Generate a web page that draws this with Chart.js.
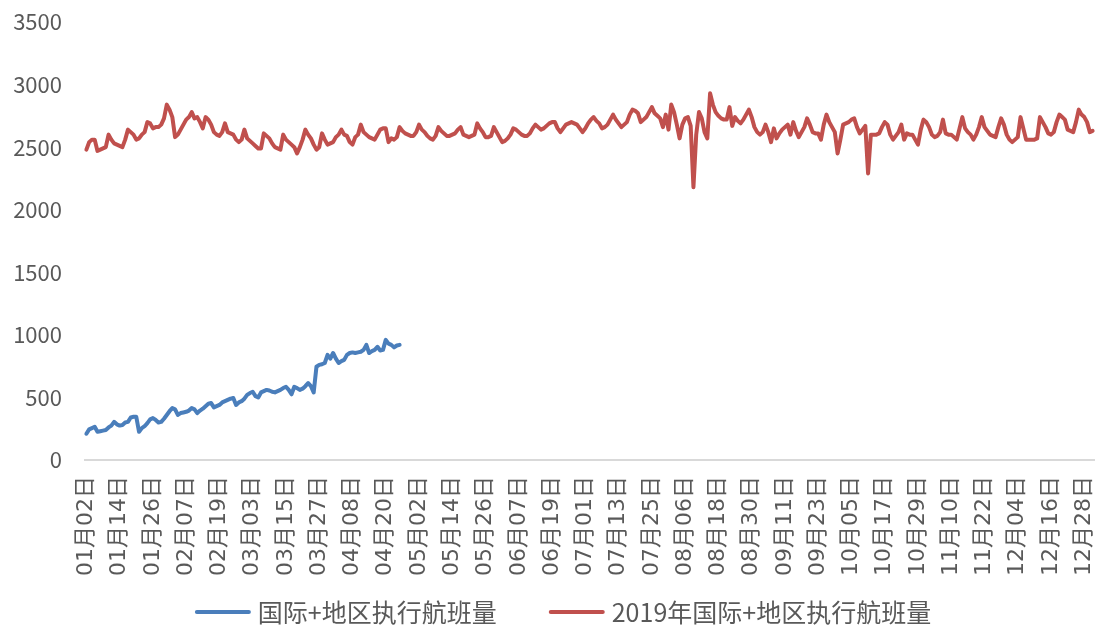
<!DOCTYPE html>
<html>
<head>
<meta charset="utf-8">
<script src="https://cdn.jsdelivr.net/npm/chart.js@4.4.1/dist/chart.umd.min.js"></script>
<style>
  html, body { margin: 0; padding: 0; background: #ffffff; }
  #wrap { width: 1098px; height: 630px; }
</style>
</head>
<body>
<div id="wrap"><canvas id="flights" width="1098" height="630"></canvas></div>
<script>
// Daily international + regional executed flights, starting 01月02日
const firstDay = { month: 1, day: 2 };
const daysInMonth = [31, 28, 31, 30, 31, 30, 31, 31, 30, 31, 30, 31];

const seriesNames = ['国际+地区执行航班量', '2019年国际+地区执行航班量'];

// current year (runs through late April)
const currentFlights = [
  210,245,255,265,225,230,235,240,260,275,
  305,285,275,280,300,305,340,345,345,225,
  255,270,295,325,335,320,300,305,330,360,
  390,415,405,360,375,380,385,395,415,405,
  375,395,410,430,450,455,420,430,440,460,
  470,480,490,495,440,460,470,490,520,535,
  545,510,500,540,550,560,555,545,540,550,
  560,575,585,560,525,585,575,560,570,590,
  615,590,540,745,760,765,775,840,810,855,
  810,775,790,800,840,855,860,855,860,865,
  880,920,855,870,880,905,875,880,960,930,
  920,900,915,920
];

// 2019 full year
const flights2019 = [
  2480,2540,2560,2560,2470,2480,2490,2500,2600,2560,
  2530,2520,2510,2500,2560,2640,2620,2600,2560,2570,
  2600,2620,2700,2690,2650,2660,2660,2680,2730,2840,
  2800,2740,2580,2600,2640,2680,2720,2740,2780,2730,
  2740,2700,2650,2740,2720,2680,2620,2600,2590,2620,
  2690,2620,2610,2600,2560,2540,2560,2640,2570,2550,
  2530,2510,2490,2490,2610,2590,2570,2530,2500,2490,
  2480,2600,2560,2540,2520,2500,2450,2500,2560,2640,
  2600,2570,2520,2480,2500,2610,2560,2520,2530,2540,
  2580,2600,2640,2600,2590,2540,2520,2580,2600,2680,
  2620,2600,2580,2570,2560,2600,2640,2650,2650,2540,
  2570,2560,2580,2660,2630,2610,2600,2590,2590,2620,
  2680,2640,2620,2590,2570,2560,2590,2660,2630,2610,
  2590,2590,2600,2610,2640,2660,2600,2590,2580,2590,
  2600,2690,2650,2620,2580,2580,2590,2660,2620,2580,
  2540,2550,2570,2600,2650,2640,2620,2600,2590,2590,
  2610,2650,2680,2660,2640,2650,2670,2690,2700,2700,
  2650,2620,2650,2680,2690,2700,2690,2680,2650,2620,
  2650,2690,2720,2740,2710,2690,2650,2660,2680,2720,
  2760,2720,2690,2660,2680,2700,2760,2800,2790,2770,
  2700,2720,2740,2780,2820,2770,2750,2730,2660,2760,
  2640,2840,2780,2680,2570,2680,2730,2740,2670,2180,
  2600,2780,2730,2620,2570,2930,2840,2780,2750,2730,
  2720,2720,2820,2670,2740,2710,2690,2720,2760,2800,
  2740,2660,2620,2600,2620,2680,2620,2540,2650,2570,
  2610,2640,2660,2680,2600,2700,2630,2580,2620,2660,
  2730,2680,2620,2610,2610,2560,2680,2760,2700,2660,
  2620,2450,2560,2680,2690,2700,2720,2730,2660,2610,
  2640,2670,2290,2600,2600,2600,2610,2660,2700,2680,
  2600,2560,2590,2620,2680,2560,2610,2600,2600,2560,
  2520,2640,2720,2700,2660,2600,2580,2590,2620,2720,
  2610,2600,2600,2580,2560,2650,2740,2650,2620,2600,
  2560,2600,2660,2740,2660,2630,2600,2590,2580,2660,
  2730,2680,2600,2560,2540,2560,2580,2740,2650,2560,
  2560,2560,2560,2570,2740,2700,2660,2610,2600,2620,
  2700,2760,2740,2720,2640,2630,2620,2700,2800,2760,
  2740,2700,2620,2630
];

const yTicks = [0, 500, 1000, 1500, 2000, 2500, 3000, 3500];
const labelEvery = 12;

// calendar day labels "MM月DD日"
const pad2 = n => String(n).padStart(2, '0');
const dayLabels = [];
{
  let m = firstDay.month, d = firstDay.day;
  while (dayLabels.length < flights2019.length) {
    dayLabels.push(pad2(m) + '月' + pad2(d) + '日');
    d++;
    if (d > daysInMonth[m - 1]) { d = 1; m++; }
  }
}

const BLUE = '#4a7ebb';
const RED = '#c0504d';
const TEXT = '#595959';

// legend drawn under the axis: short line sample followed by the series name
const seriesKey = {
  id: 'seriesKey',
  afterDraw(chart) {
    const ctx = chart.ctx;
    ctx.save();
    ctx.font = '25px "Noto Sans CJK SC"';
    const items = chart.data.datasets.map(ds => ({
      text: ds.label, color: ds.borderColor, w: ctx.measureText(ds.label).width
    }));
    const lineLen = 56, gap = 7, spacing = 52, cy = 612, cx = 563;
    const total = items.reduce((s, it) => s + lineLen + gap + it.w, 0) + spacing * (items.length - 1);
    let x = cx - total / 2;
    items.forEach(it => {
      ctx.strokeStyle = it.color;
      ctx.lineWidth = 4;
      ctx.lineCap = 'round';
      ctx.beginPath();
      ctx.moveTo(x + 2, cy);
      ctx.lineTo(x + lineLen - 2, cy);
      ctx.stroke();
      x += lineLen + gap;
      ctx.fillStyle = TEXT;
      ctx.textBaseline = 'middle';
      ctx.textAlign = 'left';
      ctx.fillText(it.text, x, cy);
      x += it.w + spacing;
    });
    ctx.restore();
  }
};

new Chart(document.getElementById('flights'), {
  type: 'line',
  data: {
    labels: dayLabels,
    datasets: [
      {
        label: seriesNames[0],
        data: currentFlights,
        borderColor: BLUE,
        backgroundColor: BLUE,
        borderWidth: 4,
        pointRadius: 0,
        tension: 0,
        borderJoinStyle: 'round',
        borderCapStyle: 'round'
      },
      {
        label: seriesNames[1],
        data: flights2019,
        borderColor: RED,
        backgroundColor: RED,
        borderWidth: 4,
        pointRadius: 0,
        tension: 0,
        borderJoinStyle: 'round',
        borderCapStyle: 'round'
      }
    ]
  },
  options: {
    responsive: false,
    animation: false,
    events: [],
    layout: { padding: { top: 22, right: 4, bottom: 45, left: 0 } },
    plugins: {
      legend: { display: false },
      tooltip: { enabled: false }
    },
    scales: {
      x: {
        type: 'category',
        offset: true,
        grid: { display: false, drawTicks: false },
        border: { display: true, color: '#d9d9d9', width: 2 },
        ticks: {
          autoSkip: false,
          minRotation: 90,
          maxRotation: 90,
          padding: 16,
          color: TEXT,
          font: { family: '"DejaVu Sans", "Noto Sans CJK SC"', size: 22 },
          callback(value, index) {
            return index % labelEvery === 0 ? this.getLabelForValue(value) : '';
          }
        },
        afterFit(scale) {
          scale.height = 125;
          scale.paddingLeft = 0;
          scale.paddingRight = 0;
        }
      },
      y: {
        min: yTicks[0],
        max: yTicks[yTicks.length - 1],
        grid: { display: false, drawTicks: false },
        border: { display: false },
        afterBuildTicks(scale) { scale.ticks = yTicks.map(v => ({ value: v })); },
        ticks: {
          padding: 23,
          color: TEXT,
          font: { family: '"Noto Sans CJK SC"', size: 22 },
          callback(value) { return String(value); }
        },
        afterFit(scale) {
          scale.width = 85;
          scale.paddingTop = 0;
          scale.paddingBottom = 0;
        }
      }
    }
  },
  plugins: [seriesKey]
});
</script>
</body>
</html>
